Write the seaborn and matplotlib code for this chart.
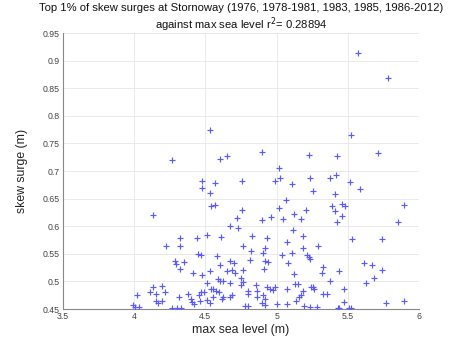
import matplotlib
matplotlib.use("Agg")
import matplotlib.pyplot as plt
import seaborn as sns
import pandas as pd

# max sea level (m)
upper_x = [4.53, 5.52, 4.605, 4.655, 4.895, 5.23, 5.425, 5.71, 5.015, 4.475, 4.475, 4.565, 4.53,
           4.755, 4.99, 5.025, 5.105, 5.235, 5.255, 5.375, 5.415, 5.41, 5.515, 5.585, 4.54, 4.57,
           5.065, 4.755, 5.015, 5.205, 5.12, 5.39, 5.455, 5.48, 5.41, 5.46, 5.895, 4.72, 4.90,
           4.96, 5.045, 5.17, 5.57, 5.78, 4.264, 4.135, 4.224]
upper_y = [0.774, 0.765, 0.722, 0.728, 0.734, 0.729, 0.728, 0.732, 0.705, 0.681, 0.669, 0.678, 0.660,
           0.681, 0.681, 0.687, 0.676, 0.688, 0.664, 0.688, 0.693, 0.658, 0.680, 0.668, 0.637, 0.639,
           0.648, 0.629, 0.633, 0.629, 0.623, 0.637, 0.641, 0.637, 0.628, 0.618, 0.638, 0.614, 0.612,
           0.617, 0.613, 0.613, 0.913, 0.868, 0.720, 0.620, 0.565]

mid_x = [4.675, 4.73, 4.32, 4.44, 4.51, 4.61, 4.83, 4.325, 4.765, 4.82, 4.45, 4.47, 4.58, 4.67,
         4.70, 4.605, 4.815, 4.65, 4.69, 4.705, 4.765, 4.415, 4.475, 4.53, 4.59, 4.60, 4.625, 4.67,
         4.75, 4.765, 4.75, 4.51, 4.54, 4.555, 4.575, 4.595, 4.49, 4.47, 4.455, 4.38, 4.40, 4.41,
         4.42, 4.46, 4.51, 4.555, 4.62, 4.625, 4.675, 4.69, 4.80, 4.80, 4.78, 4.80, 4.53]
mid_y = [0.601, 0.596, 0.578, 0.578, 0.584, 0.581, 0.582, 0.565, 0.565, 0.555, 0.550, 0.547, 0.546, 0.537,
         0.534, 0.530, 0.539, 0.519, 0.521, 0.516, 0.521, 0.515, 0.512, 0.518, 0.505, 0.501, 0.501, 0.497,
         0.507, 0.499, 0.493, 0.497, 0.486, 0.486, 0.483, 0.480, 0.481, 0.480, 0.475, 0.477, 0.468, 0.462,
         0.459, 0.465, 0.466, 0.472, 0.468, 0.471, 0.472, 0.475, 0.483, 0.478, 0.455, 0.455, 0.461]

left_x = [4.289, 4.295, 4.35, 4.325, 4.131, 4.198, 4.019, 4.112, 4.156, 4.219, 4.152, 4.171, 4.194,
          3.995, 4.035, 4.005, 4.268, 4.30, 4.33, 4.317]
left_y = [0.537, 0.532, 0.536, 0.522, 0.490, 0.492, 0.476, 0.480, 0.477, 0.480, 0.464, 0.461, 0.464,
          0.457, 0.453, 0.453, 0.451, 0.451, 0.452, 0.471]

rmid_x = [5.425, 5.115, 5.185, 4.93, 5.07, 5.185, 5.29, 4.915, 4.905, 5.04, 5.105, 5.215, 5.225, 5.235,
          4.915, 4.94, 5.08, 4.91, 5.325, 5.32, 5.435, 5.12]
rmid_y = [0.608, 0.593, 0.583, 0.578, 0.572, 0.560, 0.565, 0.560, 0.552, 0.548, 0.552, 0.548, 0.544, 0.541,
          0.537, 0.535, 0.533, 0.522, 0.526, 0.515, 0.519, 0.513]

low_x = [4.855, 4.865, 4.86, 4.905, 4.915, 4.90, 4.915, 4.93, 4.95, 4.975, 4.985, 5.00, 5.07, 5.07,
         5.13, 5.15, 5.135, 5.155, 5.17, 5.185, 5.19, 5.24, 5.255, 5.265, 5.235, 5.28, 5.325, 5.35,
         5.375, 5.43]
low_y = [0.494, 0.483, 0.471, 0.475, 0.468, 0.461, 0.458, 0.490, 0.487, 0.484, 0.489, 0.459, 0.487, 0.459,
         0.496, 0.496, 0.464, 0.471, 0.476, 0.482, 0.456, 0.489, 0.489, 0.486, 0.454, 0.454, 0.477, 0.477,
         0.501, 0.452]

right_x = [5.85, 5.525, 5.74, 5.615, 5.665, 5.74, 5.685, 5.625, 5.47, 5.47, 5.77, 5.895, 5.51, 5.52, 5.44]
right_y = [0.608, 0.576, 0.576, 0.534, 0.529, 0.521, 0.507, 0.497, 0.487, 0.463, 0.460, 0.465, 0.452, 0.452, 0.452]

x_ticks = [3.5, 4, 4.5, 5, 5.5, 6]
x_tick_labels = ["3.5", "4", "4.5", "5", "5.5", "6"]
y_ticks = [0.45, 0.5, 0.55, 0.6, 0.65, 0.7, 0.75, 0.8, 0.85, 0.9, 0.95]
y_tick_labels = ["0.45", "0.5", "0.55", "0.6", "0.65", "0.7", "0.75", "0.8", "0.85", "0.9", "0.95"]

title_line1 = "Top 1% of skew surges at Stornoway (1976, 1978-1981, 1983, 1985, 1986-2012)"
title_line2 = "against max sea level r$^{2}$= 0.28894"

df = pd.DataFrame({
    "max sea level (m)": upper_x + mid_x + left_x + rmid_x + low_x + right_x,
    "skew surge (m)": upper_y + mid_y + left_y + rmid_y + low_y + right_y,
})

sns.set_style("white")
plt.rcParams["font.family"] = ["Liberation Sans", "DejaVu Sans"]

fig = plt.figure(figsize=(4.65, 3.5), dpi=100)
ax = fig.add_axes([0.1348, 0.1171, 0.7669, 0.7886])

marker_color = "#5a5aff"
sns.scatterplot(data=df, x="max sea level (m)", y="skew surge (m)", ax=ax,
                marker="+", color=marker_color,
                s=18, linewidth=0.85, zorder=3)
for coll in ax.collections:
    coll.set_edgecolor(marker_color)
    coll.set_facecolor(marker_color)

ax.set_xlim(3.5, 6)
ax.set_ylim(0.45, 0.95)
ax.set_xticks(x_ticks)
ax.set_xticklabels(x_tick_labels)
ax.set_yticks(y_ticks)
ax.set_yticklabels(y_tick_labels)
ax.grid(True, color="#e6e6e6", linewidth=0.6, linestyle="-")
ax.tick_params(axis="both", direction="in", length=3, width=0.6, color="#888888",
               labelsize=6.3, labelcolor="#444444", pad=2)
for side in ["top", "right"]:
    ax.spines[side].set_visible(False)
for side in ["left", "bottom"]:
    ax.spines[side].set_color("#888888")
    ax.spines[side].set_linewidth(0.8)

ax.set_xlabel("max sea level (m)", fontsize=8.8, color="#222222", labelpad=2)
ax.set_ylabel("skew surge (m)", fontsize=8.8, color="#222222", labelpad=11)
ax.text(0.5, 1.090, title_line1, transform=ax.transAxes, ha="center", va="center",
        fontsize=8.1, color="#111111")
ax.text(0.5, 1.031, title_line2, transform=ax.transAxes, ha="center", va="center",
        fontsize=8.1, color="#111111")

fig.savefig("out.png", dpi=100, facecolor="white")
